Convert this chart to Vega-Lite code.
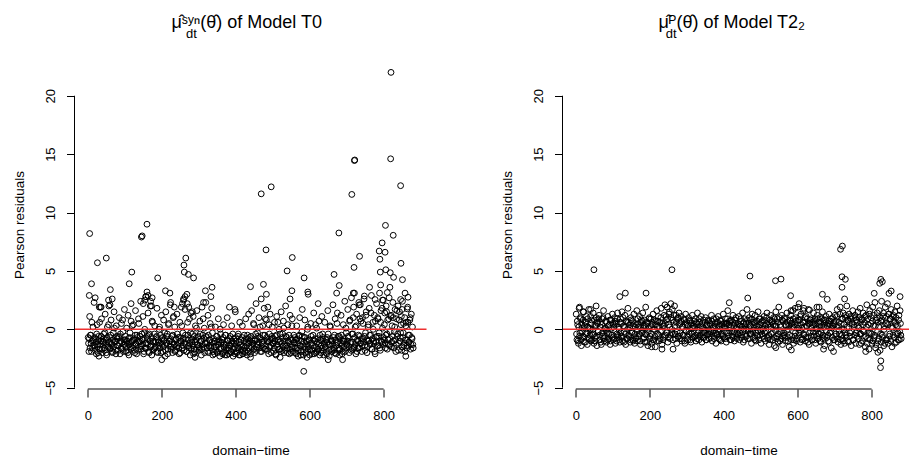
{
"$schema": "https://vega.github.io/schema/vega-lite/v6.json",
"padding": {"left": 11.5, "top": 14, "right": 0, "bottom": 0},
"spacing": 72,
"config": {
"view": {"stroke": null},
"font": "Liberation Sans",
"axis": {"domain": false, "grid": false, "tickColor": "black", "tickSize": 8, "tickWidth": 1, "labelColor": "black", "labelFontSize": 13, "labelFont": "Liberation Sans", "titleFont": "Liberation Sans", "titleFontSize": 13.5, "titleFontWeight": "normal", "titleColor": "black"},
"title": {"font": "Liberation Sans", "fontSize": 18, "fontWeight": "normal", "color": "black", "subtitleFont": "Liberation Sans", "subtitleFontSize": 13, "subtitleColor": "black", "anchor": "start", "frame": "group"}
},
"datasets": {
"t0": [
{"x":1,"y":-0.7},{"x":3,"y":-1.9},{"x":5,"y":1.1},{"x":7,"y":-0.5},{"x":9,"y":-1.2},{"x":11,"y":0.6},{"x":13,"y":-1.6},{"x":15,"y":-0.9},{"x":17,"y":2.3},{"x":19,"y":-1.4},
{"x":21,"y":-0.8},{"x":23,"y":-2.1},{"x":25,"y":0.4},{"x":27,"y":-1.3},{"x":29,"y":-0.6},{"x":31,"y":1.9},{"x":33,"y":-1.7},{"x":35,"y":-1.0},{"x":37,"y":0.9},{"x":39,"y":-2.0},
{"x":41,"y":-1.1},{"x":43,"y":-0.4},{"x":45,"y":-1.8},{"x":47,"y":1.3},{"x":49,"y":-0.9},{"x":51,"y":-2.2},{"x":53,"y":0.2},{"x":55,"y":-1.5},{"x":57,"y":2.0},{"x":59,"y":-0.7},
{"x":61,"y":-1.6},{"x":63,"y":0.8},{"x":65,"y":-1.2},{"x":67,"y":-2.0},{"x":69,"y":-0.3},{"x":71,"y":1.5},{"x":73,"y":-1.1},{"x":75,"y":-1.8},{"x":77,"y":0.3},{"x":79,"y":-0.8},
{"x":81,"y":-1.4},{"x":83,"y":-0.6},{"x":85,"y":1.0},{"x":87,"y":-2.1},{"x":89,"y":-1.0},{"x":91,"y":0.5},{"x":93,"y":-1.7},{"x":95,"y":-0.2},{"x":97,"y":-1.3},{"x":99,"y":1.7},
{"x":101,"y":-0.9},{"x":103,"y":-1.9},{"x":105,"y":0.1},{"x":107,"y":-1.2},{"x":109,"y":1.2},{"x":111,"y":-2.2},{"x":113,"y":-0.7},{"x":115,"y":-1.5},{"x":117,"y":0.7},{"x":119,"y":-1.0},
{"x":121,"y":-1.6},{"x":123,"y":0.4},{"x":125,"y":-0.8},{"x":127,"y":-2.0},{"x":129,"y":1.6},{"x":131,"y":-1.3},{"x":133,"y":-0.5},{"x":135,"y":-1.8},{"x":137,"y":0.9},{"x":139,"y":-1.1},
{"x":141,"y":-0.6},{"x":143,"y":2.4},{"x":145,"y":-1.4},{"x":147,"y":-0.9},{"x":149,"y":1.1},{"x":151,"y":-2.1},{"x":153,"y":-0.3},{"x":155,"y":-1.6},{"x":157,"y":2.8},{"x":159,"y":-1.2},
{"x":161,"y":-0.8},{"x":163,"y":1.4},{"x":165,"y":-1.9},{"x":167,"y":-0.4},{"x":169,"y":2.0},{"x":171,"y":-1.3},{"x":173,"y":-2.2},{"x":175,"y":0.6},{"x":177,"y":-1.0},{"x":179,"y":-1.7},
{"x":181,"y":0.3},{"x":183,"y":-1.5},{"x":185,"y":-0.7},{"x":187,"y":1.8},{"x":189,"y":-2.0},{"x":191,"y":-1.1},{"x":193,"y":0.0},{"x":195,"y":-1.6},{"x":197,"y":-0.5},{"x":199,"y":1.2},
{"x":201,"y":-1.3},{"x":203,"y":-1.9},{"x":205,"y":0.8},{"x":207,"y":-0.9},{"x":209,"y":-2.3},{"x":211,"y":1.5},{"x":213,"y":-1.2},{"x":215,"y":-0.4},{"x":217,"y":-1.7},{"x":219,"y":0.5},
{"x":221,"y":-1.0},{"x":223,"y":2.1},{"x":225,"y":-1.5},{"x":227,"y":-0.6},{"x":229,"y":-2.0},{"x":231,"y":1.0},{"x":233,"y":-1.3},{"x":235,"y":0.2},{"x":237,"y":-1.8},{"x":239,"y":-0.8},
{"x":241,"y":1.3},{"x":243,"y":-1.4},{"x":245,"y":-0.7},{"x":247,"y":-2.1},{"x":249,"y":0.6},{"x":251,"y":-1.0},{"x":253,"y":1.9},{"x":255,"y":-1.6},{"x":257,"y":-0.3},{"x":259,"y":2.6},
{"x":261,"y":-1.2},{"x":263,"y":1.7},{"x":265,"y":-0.8},{"x":267,"y":-1.9},{"x":269,"y":2.2},{"x":271,"y":-0.5},{"x":273,"y":-1.4},{"x":275,"y":0.9},{"x":277,"y":-2.2},{"x":279,"y":1.4},
{"x":281,"y":-1.1},{"x":283,"y":-0.4},{"x":285,"y":1.1},{"x":287,"y":-1.7},{"x":289,"y":-2.0},{"x":291,"y":0.3},{"x":293,"y":-0.9},{"x":295,"y":1.6},{"x":297,"y":-1.3},{"x":299,"y":-0.6},
{"x":301,"y":-1.8},{"x":303,"y":0.7},{"x":305,"y":-1.0},{"x":307,"y":-2.2},{"x":309,"y":1.9},{"x":311,"y":-0.5},{"x":313,"y":-1.5},{"x":315,"y":0.1},{"x":317,"y":-1.2},{"x":319,"y":2.3},
{"x":321,"y":-0.7},{"x":323,"y":-1.6},{"x":325,"y":1.2},{"x":327,"y":-2.0},{"x":329,"y":-0.9},{"x":331,"y":0.5},{"x":333,"y":-1.4},{"x":335,"y":1.8},{"x":337,"y":-0.3},{"x":339,"y":-1.9},
{"x":341,"y":-1.2},{"x":343,"y":-2.1},{"x":345,"y":0.2},{"x":347,"y":-1.5},{"x":349,"y":-0.6},{"x":351,"y":-1.9},{"x":353,"y":0.9},{"x":355,"y":-1.1},{"x":357,"y":-2.3},{"x":359,"y":-0.4},
{"x":361,"y":-1.7},{"x":363,"y":-0.9},{"x":365,"y":-2.0},{"x":367,"y":0.4},{"x":369,"y":-1.3},{"x":371,"y":-2.2},{"x":373,"y":-0.5},{"x":375,"y":-1.6},{"x":377,"y":1.0},{"x":379,"y":-1.0},
{"x":381,"y":-2.1},{"x":383,"y":-1.4},{"x":385,"y":-0.6},{"x":387,"y":-1.9},{"x":389,"y":0.3},{"x":391,"y":-1.2},{"x":393,"y":-2.3},{"x":395,"y":-0.8},{"x":397,"y":-1.5},{"x":399,"y":1.5},
{"x":401,"y":-1.0},{"x":403,"y":-2.0},{"x":405,"y":-1.6},{"x":407,"y":-0.4},{"x":409,"y":-2.2},{"x":411,"y":0.6},{"x":413,"y":-1.3},{"x":415,"y":-1.8},{"x":417,"y":-0.7},{"x":419,"y":-2.1},
{"x":421,"y":-1.4},{"x":423,"y":-0.5},{"x":425,"y":-1.9},{"x":427,"y":0.9},{"x":429,"y":-1.1},{"x":431,"y":-2.2},{"x":433,"y":-0.8},{"x":435,"y":1.3},{"x":437,"y":-1.6},{"x":439,"y":-1.0},
{"x":441,"y":-0.6},{"x":443,"y":1.6},{"x":445,"y":-1.8},{"x":447,"y":-1.2},{"x":449,"y":0.4},{"x":451,"y":-2.0},{"x":453,"y":-0.9},{"x":455,"y":2.2},{"x":457,"y":-1.5},{"x":459,"y":-0.3},
{"x":461,"y":-1.3},{"x":463,"y":1.0},{"x":465,"y":-0.7},{"x":467,"y":-1.9},{"x":469,"y":2.6},{"x":471,"y":-1.1},{"x":473,"y":0.3},{"x":475,"y":-1.6},{"x":477,"y":1.8},{"x":479,"y":-0.5},
{"x":481,"y":-1.7},{"x":483,"y":0.8},{"x":485,"y":-1.0},{"x":487,"y":1.9},{"x":489,"y":-2.1},{"x":491,"y":-0.4},{"x":493,"y":1.3},{"x":495,"y":-1.4},{"x":497,"y":-0.8},{"x":499,"y":0.2},
{"x":501,"y":-1.2},{"x":503,"y":-1.9},{"x":505,"y":0.6},{"x":507,"y":-0.6},{"x":509,"y":-2.2},{"x":511,"y":1.1},{"x":513,"y":-1.5},{"x":515,"y":-0.9},{"x":517,"y":0.0},{"x":519,"y":-1.7},
{"x":521,"y":-1.0},{"x":523,"y":1.5},{"x":525,"y":-1.8},{"x":527,"y":-0.4},{"x":529,"y":0.7},{"x":531,"y":-2.0},{"x":533,"y":-1.3},{"x":535,"y":2.0},{"x":537,"y":-0.7},{"x":539,"y":-1.6},
{"x":541,"y":0.4},{"x":543,"y":-1.1},{"x":545,"y":-2.1},{"x":547,"y":1.2},{"x":549,"y":-0.8},{"x":551,"y":-1.5},{"x":553,"y":0.9},{"x":555,"y":-1.9},{"x":557,"y":-0.5},{"x":559,"y":-1.2},
{"x":561,"y":-2.0},{"x":563,"y":-0.9},{"x":565,"y":0.3},{"x":567,"y":-1.6},{"x":569,"y":-2.3},{"x":571,"y":-0.6},{"x":573,"y":1.0},{"x":575,"y":-1.4},{"x":577,"y":-1.9},{"x":579,"y":-0.2},
{"x":581,"y":-1.3},{"x":583,"y":-2.2},{"x":585,"y":-0.7},{"x":587,"y":0.8},{"x":589,"y":-1.7},{"x":591,"y":-1.0},{"x":593,"y":-2.4},{"x":595,"y":0.2},{"x":597,"y":-1.5},{"x":599,"y":-0.9},
{"x":601,"y":-1.8},{"x":603,"y":0.5},{"x":605,"y":-1.2},{"x":607,"y":-2.1},{"x":609,"y":-0.5},{"x":611,"y":1.4},{"x":613,"y":-1.6},{"x":615,"y":-0.8},{"x":617,"y":-2.0},{"x":619,"y":0.1},
{"x":621,"y":-1.1},{"x":623,"y":-1.7},{"x":625,"y":0.7},{"x":627,"y":-2.2},{"x":629,"y":-0.9},{"x":631,"y":-1.4},{"x":633,"y":1.1},{"x":635,"y":-0.4},{"x":637,"y":-1.9},{"x":639,"y":-1.2},
{"x":641,"y":0.6},{"x":643,"y":-1.5},{"x":645,"y":-2.0},{"x":647,"y":-0.7},{"x":649,"y":1.6},{"x":651,"y":-1.3},{"x":653,"y":-2.3},{"x":655,"y":0.3},{"x":657,"y":-0.9},{"x":659,"y":-1.7},
{"x":661,"y":-1.0},{"x":663,"y":2.1},{"x":665,"y":-1.8},{"x":667,"y":-0.5},{"x":669,"y":0.9},{"x":671,"y":-2.1},{"x":673,"y":-1.2},{"x":675,"y":1.4},{"x":677,"y":-0.6},{"x":679,"y":-1.6},
{"x":681,"y":-2.2},{"x":683,"y":-0.8},{"x":685,"y":1.2},{"x":687,"y":-1.4},{"x":689,"y":-1.9},{"x":691,"y":0.4},{"x":693,"y":-1.0},{"x":695,"y":2.4},{"x":697,"y":-1.6},{"x":699,"y":-0.3},
{"x":701,"y":-1.3},{"x":703,"y":1.7},{"x":705,"y":-0.7},{"x":707,"y":-2.0},{"x":709,"y":0.8},{"x":711,"y":-1.1},{"x":713,"y":2.7},{"x":715,"y":-1.7},{"x":717,"y":-0.4},{"x":719,"y":1.9},
{"x":721,"y":-1.5},{"x":723,"y":0.2},{"x":725,"y":-2.1},{"x":727,"y":1.3},{"x":729,"y":-0.9},{"x":731,"y":-1.6},{"x":733,"y":2.3},{"x":735,"y":-0.6},{"x":737,"y":-1.2},{"x":739,"y":0.7},
{"x":741,"y":-1.9},{"x":743,"y":1.0},{"x":745,"y":-0.8},{"x":747,"y":2.6},{"x":749,"y":-1.4},{"x":751,"y":-0.3},{"x":753,"y":1.5},{"x":755,"y":-2.0},{"x":757,"y":-1.0},{"x":759,"y":0.4},
{"x":761,"y":1.8},{"x":763,"y":-1.2},{"x":765,"y":-0.5},{"x":767,"y":2.9},{"x":769,"y":-1.7},{"x":771,"y":0.6},{"x":773,"y":-1.0},{"x":775,"y":1.2},{"x":777,"y":-2.1},{"x":779,"y":-0.7},
{"x":781,"y":2.2},{"x":783,"y":-1.4},{"x":785,"y":0.9},{"x":787,"y":-0.6},{"x":789,"y":3.1},{"x":791,"y":-1.8},{"x":793,"y":1.6},{"x":795,"y":-1.1},{"x":797,"y":0.1},{"x":799,"y":2.5},
{"x":801,"y":-0.9},{"x":803,"y":1.4},{"x":805,"y":-1.6},{"x":807,"y":2.0},{"x":809,"y":-0.4},{"x":811,"y":0.8},{"x":813,"y":-1.3},{"x":815,"y":2.7},{"x":817,"y":-0.8},{"x":819,"y":1.1},
{"x":821,"y":-1.5},{"x":823,"y":0.3},{"x":825,"y":2.3},{"x":827,"y":-1.0},{"x":829,"y":-0.2},{"x":831,"y":1.7},{"x":833,"y":-1.9},{"x":835,"y":0.9},{"x":837,"y":-0.6},{"x":839,"y":2.0},
{"x":841,"y":-1.2},{"x":843,"y":1.5},{"x":845,"y":-0.7},{"x":847,"y":0.4},{"x":849,"y":-1.8},{"x":851,"y":2.4},{"x":853,"y":-0.3},{"x":855,"y":-1.4},{"x":857,"y":1.0},{"x":859,"y":-0.9},
{"x":861,"y":0.6},{"x":863,"y":-1.6},{"x":865,"y":1.9},{"x":867,"y":-0.5},{"x":869,"y":-1.1},{"x":871,"y":0.8},{"x":873,"y":-1.7},{"x":875,"y":1.3},{"x":877,"y":-0.8},{"x":879,"y":-1.3},
{"x":2,"y":-1.2},{"x":4,"y":-0.8},{"x":6,"y":-1.6},{"x":8,"y":-0.5},{"x":10,"y":-1.9},{"x":12,"y":-1.0},{"x":14,"y":0.2},{"x":16,"y":-1.4},{"x":18,"y":-0.7},{"x":20,"y":-1.8},
{"x":22,"y":-1.1},{"x":24,"y":-0.4},{"x":26,"y":-1.5},{"x":28,"y":-2.0},{"x":30,"y":-0.9},{"x":32,"y":0.6},{"x":34,"y":-1.3},{"x":36,"y":-0.6},{"x":38,"y":-1.7},{"x":40,"y":-1.0},
{"x":42,"y":-0.8},{"x":44,"y":-1.6},{"x":46,"y":-0.3},{"x":48,"y":-1.2},{"x":50,"y":-2.0},{"x":52,"y":-0.7},{"x":54,"y":-1.4},{"x":56,"y":0.4},{"x":58,"y":-1.1},{"x":60,"y":-1.7},
{"x":62,"y":-0.5},{"x":64,"y":-1.3},{"x":66,"y":-1.9},{"x":68,"y":-0.9},{"x":70,"y":-1.5},{"x":72,"y":0.1},{"x":74,"y":-1.0},{"x":76,"y":-2.1},{"x":78,"y":-0.6},{"x":80,"y":-1.4},
{"x":82,"y":-1.8},{"x":84,"y":-0.7},{"x":86,"y":-1.2},{"x":88,"y":-0.4},{"x":90,"y":-1.6},{"x":92,"y":-1.1},{"x":94,"y":0.8},{"x":96,"y":-1.9},{"x":98,"y":-0.9},{"x":100,"y":-1.3},
{"x":102,"y":-0.6},{"x":104,"y":-1.5},{"x":106,"y":-1.0},{"x":108,"y":-2.0},{"x":110,"y":-0.8},{"x":112,"y":-1.3},{"x":114,"y":-0.3},{"x":116,"y":-1.7},{"x":118,"y":-1.1},{"x":120,"y":0.3},
{"x":122,"y":-1.4},{"x":124,"y":-0.9},{"x":126,"y":-1.8},{"x":128,"y":-0.5},{"x":130,"y":-1.2},{"x":132,"y":-2.1},{"x":134,"y":-0.7},{"x":136,"y":-1.0},{"x":138,"y":0.5},{"x":140,"y":-1.5},
{"x":142,"y":-1.0},{"x":144,"y":-1.7},{"x":146,"y":-0.4},{"x":148,"y":-1.3},{"x":150,"y":-0.8},{"x":152,"y":-1.9},{"x":154,"y":0.0},{"x":156,"y":-1.2},{"x":158,"y":-1.6},{"x":160,"y":-0.6},
{"x":162,"y":-1.3},{"x":164,"y":-0.5},{"x":166,"y":-2.0},{"x":168,"y":-1.0},{"x":170,"y":-1.5},{"x":172,"y":-0.7},{"x":174,"y":0.7},{"x":176,"y":-1.8},{"x":178,"y":-1.1},{"x":180,"y":-0.4},
{"x":182,"y":-1.6},{"x":184,"y":-1.1},{"x":186,"y":-0.6},{"x":188,"y":-1.9},{"x":190,"y":-0.9},{"x":192,"y":-1.4},{"x":194,"y":0.2},{"x":196,"y":-1.2},{"x":198,"y":-2.0},{"x":200,"y":-0.8},
{"x":202,"y":-0.7},{"x":204,"y":-1.5},{"x":206,"y":-1.0},{"x":208,"y":-0.3},{"x":210,"y":-1.8},{"x":212,"y":-1.2},{"x":214,"y":-0.6},{"x":216,"y":-2.1},{"x":218,"y":0.4},{"x":220,"y":-1.0},
{"x":222,"y":-1.4},{"x":224,"y":-0.8},{"x":226,"y":-1.7},{"x":228,"y":-1.1},{"x":230,"y":-0.5},{"x":232,"y":1.1},{"x":234,"y":-1.3},{"x":236,"y":-1.9},{"x":238,"y":-0.9},{"x":240,"y":-1.5},
{"x":242,"y":-0.4},{"x":244,"y":-1.2},{"x":246,"y":-1.6},{"x":248,"y":-0.7},{"x":250,"y":-2.0},{"x":252,"y":-1.0},{"x":254,"y":0.3},{"x":256,"y":-1.4},{"x":258,"y":-0.8},{"x":260,"y":-1.8},
{"x":262,"y":-1.1},{"x":264,"y":-0.5},{"x":266,"y":-1.3},{"x":268,"y":-1.9},{"x":270,"y":0.6},{"x":272,"y":-0.9},{"x":274,"y":-1.6},{"x":276,"y":-1.2},{"x":278,"y":-0.3},{"x":280,"y":-1.7},
{"x":282,"y":-0.9},{"x":284,"y":-1.4},{"x":286,"y":-2.1},{"x":288,"y":-0.6},{"x":290,"y":-1.1},{"x":292,"y":-1.8},{"x":294,"y":0.1},{"x":296,"y":-1.3},{"x":298,"y":-0.7},{"x":300,"y":-1.5},
{"x":302,"y":-1.6},{"x":304,"y":-0.4},{"x":306,"y":-1.0},{"x":308,"y":-1.7},{"x":310,"y":-1.3},{"x":312,"y":0.9},{"x":314,"y":-0.8},{"x":316,"y":-2.0},{"x":318,"y":-1.2},{"x":320,"y":-0.6},
{"x":322,"y":-1.2},{"x":324,"y":-1.9},{"x":326,"y":-0.5},{"x":328,"y":-1.4},{"x":330,"y":-0.9},{"x":332,"y":-1.6},{"x":334,"y":0.2},{"x":336,"y":-1.1},{"x":338,"y":-2.2},{"x":340,"y":-0.8},
{"x":342,"y":-1.5},{"x":344,"y":-1.0},{"x":346,"y":-1.8},{"x":348,"y":-0.6},{"x":350,"y":-2.0},{"x":352,"y":-1.3},{"x":354,"y":-0.9},{"x":356,"y":-1.7},{"x":358,"y":0.0},{"x":360,"y":-1.2},
{"x":362,"y":-1.1},{"x":364,"y":-2.1},{"x":366,"y":-0.7},{"x":368,"y":-1.5},{"x":370,"y":-1.9},{"x":372,"y":-0.5},{"x":374,"y":-1.3},{"x":376,"y":-2.2},{"x":378,"y":-0.9},{"x":380,"y":-1.6},
{"x":382,"y":-1.8},{"x":384,"y":-0.8},{"x":386,"y":-1.4},{"x":388,"y":-2.0},{"x":390,"y":-1.0},{"x":392,"y":-0.4},{"x":394,"y":-1.7},{"x":396,"y":-1.2},{"x":398,"y":-2.1},{"x":400,"y":-0.7},
{"x":402,"y":-1.3},{"x":404,"y":-1.9},{"x":406,"y":-0.6},{"x":408,"y":-1.6},{"x":410,"y":-1.1},{"x":412,"y":-2.2},{"x":414,"y":-0.9},{"x":416,"y":-1.5},{"x":418,"y":0.3},{"x":420,"y":-1.8},
{"x":422,"y":-1.0},{"x":424,"y":-1.6},{"x":426,"y":-2.0},{"x":428,"y":-0.8},{"x":430,"y":-1.4},{"x":432,"y":-0.5},{"x":434,"y":-1.9},{"x":436,"y":-1.2},{"x":438,"y":-0.7},{"x":440,"y":-2.1},
{"x":442,"y":-1.5},{"x":444,"y":-0.9},{"x":446,"y":-1.2},{"x":448,"y":0.5},{"x":450,"y":-1.7},{"x":452,"y":-1.0},{"x":454,"y":-0.4},{"x":456,"y":-1.8},{"x":458,"y":-1.3},{"x":460,"y":-0.6},
{"x":462,"y":-1.1},{"x":464,"y":-1.6},{"x":466,"y":0.2},{"x":468,"y":-0.8},{"x":470,"y":-1.9},{"x":472,"y":-1.3},{"x":474,"y":-0.5},{"x":476,"y":-1.0},{"x":478,"y":-1.7},{"x":480,"y":0.9},
{"x":482,"y":-1.4},{"x":484,"y":-0.7},{"x":486,"y":-1.8},{"x":488,"y":-1.1},{"x":490,"y":0.4},{"x":492,"y":-1.5},{"x":494,"y":-0.9},{"x":496,"y":-2.0},{"x":498,"y":-0.6},{"x":500,"y":-1.2},
{"x":502,"y":-0.8},{"x":504,"y":-1.6},{"x":506,"y":-1.0},{"x":508,"y":-2.1},{"x":510,"y":-0.5},{"x":512,"y":-1.3},{"x":514,"y":0.6},{"x":516,"y":-1.7},{"x":518,"y":-1.1},{"x":520,"y":-0.4},
{"x":522,"y":-1.9},{"x":524,"y":-1.2},{"x":526,"y":-0.7},{"x":528,"y":-1.5},{"x":530,"y":0.1},{"x":532,"y":-1.0},{"x":534,"y":-1.8},{"x":536,"y":-0.6},{"x":538,"y":-1.4},{"x":540,"y":-2.0},
{"x":542,"y":-1.0},{"x":544,"y":-0.5},{"x":546,"y":-1.7},{"x":548,"y":-1.3},{"x":550,"y":-2.0},{"x":552,"y":0.3},{"x":554,"y":-0.9},{"x":556,"y":-1.5},{"x":558,"y":-1.1},{"x":560,"y":-0.7},
{"x":562,"y":-1.6},{"x":564,"y":-2.1},{"x":566,"y":-0.8},{"x":568,"y":-1.2},{"x":570,"y":-1.8},{"x":572,"y":-0.5},{"x":574,"y":-1.4},{"x":576,"y":-2.2},{"x":578,"y":-1.0},{"x":580,"y":-0.6},
{"x":582,"y":-1.9},{"x":584,"y":-1.1},{"x":586,"y":-1.5},{"x":588,"y":-0.7},{"x":590,"y":-2.0},{"x":592,"y":-1.3},{"x":594,"y":0.0},{"x":596,"y":-1.7},{"x":598,"y":-0.9},{"x":600,"y":-2.2},
{"x":602,"y":-1.2},{"x":604,"y":-0.6},{"x":606,"y":-1.8},{"x":608,"y":-1.4},{"x":610,"y":-0.9},{"x":612,"y":-2.1},{"x":614,"y":-1.0},{"x":616,"y":0.4},{"x":618,"y":-1.5},{"x":620,"y":-1.9},
{"x":622,"y":-0.8},{"x":624,"y":-1.7},{"x":626,"y":-1.2},{"x":628,"y":-0.5},{"x":630,"y":-2.0},{"x":632,"y":-1.0},{"x":634,"y":-1.6},{"x":636,"y":-0.7},{"x":638,"y":-2.2},{"x":640,"y":-1.3},
{"x":642,"y":-1.5},{"x":644,"y":-0.9},{"x":646,"y":-2.1},{"x":648,"y":-1.1},{"x":650,"y":-0.4},{"x":652,"y":-1.8},{"x":654,"y":-1.3},{"x":656,"y":0.2},{"x":658,"y":-1.0},{"x":660,"y":-1.9},
{"x":662,"y":-1.3},{"x":664,"y":-0.7},{"x":666,"y":-1.6},{"x":668,"y":-2.0},{"x":670,"y":-0.9},{"x":672,"y":-1.4},{"x":674,"y":0.5},{"x":676,"y":-1.1},{"x":678,"y":-1.8},{"x":680,"y":-0.6},
{"x":682,"y":-1.7},{"x":684,"y":-1.2},{"x":686,"y":-0.5},{"x":688,"y":-2.1},{"x":690,"y":-1.0},{"x":692,"y":-1.5},{"x":694,"y":-0.8},{"x":696,"y":-1.9},{"x":698,"y":0.1},{"x":700,"y":-1.3},
{"x":702,"y":-1.0},{"x":704,"y":-0.6},{"x":706,"y":-1.5},{"x":708,"y":0.7},{"x":710,"y":-1.2},{"x":712,"y":-1.8},{"x":714,"y":-0.4},{"x":716,"y":-1.1},{"x":718,"y":1.0},{"x":720,"y":-1.6},
{"x":722,"y":-0.7},{"x":724,"y":-1.3},{"x":726,"y":0.3},{"x":728,"y":-1.9},{"x":730,"y":-1.0},{"x":732,"y":-0.5},{"x":734,"y":-1.6},{"x":736,"y":0.9},{"x":738,"y":-1.2},{"x":740,"y":-0.8},
{"x":742,"y":-1.4},{"x":744,"y":0.5},{"x":746,"y":-1.1},{"x":748,"y":-0.6},{"x":750,"y":-1.8},{"x":752,"y":1.2},{"x":754,"y":-0.9},{"x":756,"y":-1.5},{"x":758,"y":0.2},{"x":760,"y":-1.0},
{"x":762,"y":-0.5},{"x":764,"y":-1.3},{"x":766,"y":1.4},{"x":768,"y":-1.7},{"x":770,"y":-0.8},{"x":772,"y":0.0},{"x":774,"y":-1.2},{"x":776,"y":-1.9},{"x":778,"y":0.7},{"x":780,"y":-1.1},
{"x":782,"y":-0.6},{"x":784,"y":1.0},{"x":786,"y":-1.4},{"x":788,"y":-0.3},{"x":790,"y":-1.6},{"x":792,"y":0.6},{"x":794,"y":-1.0},{"x":796,"y":1.8},{"x":798,"y":-1.3},{"x":800,"y":-0.7},
{"x":802,"y":0.4},{"x":804,"y":-1.2},{"x":806,"y":-0.5},{"x":808,"y":1.5},{"x":810,"y":-1.7},{"x":812,"y":-0.9},{"x":814,"y":0.9},{"x":816,"y":-1.4},{"x":818,"y":-0.2},{"x":820,"y":1.2},
{"x":822,"y":-1.1},{"x":824,"y":-0.6},{"x":826,"y":1.0},{"x":828,"y":-1.6},{"x":830,"y":0.2},{"x":832,"y":-0.9},{"x":834,"y":-1.3},{"x":836,"y":1.6},{"x":838,"y":-0.4},{"x":840,"y":-1.8},
{"x":842,"y":0.8},{"x":844,"y":-1.0},{"x":846,"y":-0.3},{"x":848,"y":1.1},{"x":850,"y":-1.5},{"x":852,"y":-0.7},{"x":854,"y":0.5},{"x":856,"y":-1.2},{"x":858,"y":-1.9},{"x":860,"y":0.3},
{"x":862,"y":-0.9},{"x":864,"y":-1.4},{"x":866,"y":0.6},{"x":868,"y":-1.1},{"x":870,"y":-0.5},{"x":872,"y":1.0},{"x":874,"y":-1.3},{"x":876,"y":-0.7},{"x":878,"y":0.2},{"x":880,"y":-1.6},
{"x":5,"y":8.2},{"x":10,"y":3.9},{"x":4,"y":2.9},{"x":20,"y":2.7},{"x":26,"y":5.7},{"x":50,"y":6.1},{"x":34,"y":1.9},{"x":36,"y":1.9},{"x":61,"y":3.4},{"x":56,"y":2.5},{"x":66,"y":2.6},{"x":60,"y":2.1},
{"x":112,"y":3.9},{"x":119,"y":4.9},{"x":117,"y":2.2},{"x":145,"y":7.9},{"x":147,"y":8.0},{"x":160,"y":9.0},{"x":189,"y":4.4},{"x":160,"y":3.2},{"x":163,"y":2.9},{"x":150,"y":2.2},{"x":154,"y":2.5},{"x":157,"y":2.8},
{"x":172,"y":2.0},{"x":174,"y":2.7},{"x":170,"y":2.4},{"x":210,"y":3.3},{"x":222,"y":3.1},{"x":224,"y":2.3},{"x":234,"y":1.9},{"x":265,"y":6.1},{"x":260,"y":5.5},{"x":261,"y":4.9},{"x":272,"y":4.7},{"x":286,"y":4.4},
{"x":256,"y":2.2},{"x":259,"y":2.5},{"x":263,"y":2.8},{"x":268,"y":3.0},{"x":273,"y":1.9},{"x":283,"y":1.5},{"x":318,"y":3.3},{"x":336,"y":3.6},{"x":333,"y":2.8},{"x":313,"y":2.3},{"x":383,"y":1.9},{"x":398,"y":1.7},
{"x":440,"y":3.65},{"x":469,"y":11.6},{"x":496,"y":12.2},{"x":482,"y":6.8},{"x":475,"y":3.85},{"x":483,"y":3.0},{"x":539,"y":5.0},{"x":553,"y":6.15},{"x":552,"y":3.3},{"x":547,"y":2.6},{"x":585,"y":4.4},{"x":595,"y":3.2},
{"x":596,"y":3.0},{"x":580,"y":1.7},{"x":623,"y":2.2},{"x":584,"y":-3.6},{"x":679,"y":8.25},{"x":666,"y":4.7},{"x":680,"y":3.75},{"x":673,"y":3.1},{"x":714,"y":11.55},{"x":721,"y":14.45},{"x":722,"y":14.5},{"x":720,"y":5.3},
{"x":735,"y":6.25},{"x":718,"y":3.1},{"x":721,"y":3.1},{"x":734,"y":2.1},{"x":737,"y":2.1},{"x":748,"y":2.85},{"x":762,"y":3.6},{"x":777,"y":2.55},{"x":820,"y":22.0},{"x":819,"y":14.6},{"x":846,"y":12.3},{"x":805,"y":8.9},
{"x":826,"y":8.05},{"x":796,"y":7.4},{"x":788,"y":6.7},{"x":804,"y":6.6},{"x":790,"y":6.0},{"x":847,"y":5.65},{"x":791,"y":4.9},{"x":806,"y":5.1},{"x":818,"y":4.85},{"x":827,"y":4.45},{"x":851,"y":4.25},{"x":792,"y":3.8},
{"x":817,"y":3.6},{"x":810,"y":3.15},{"x":797,"y":2.5},{"x":858,"y":3.1},{"x":866,"y":2.75},{"x":846,"y":2.55},{"x":864,"y":1.75},{"x":850,"y":1.7},
{"x":200,"y":-2.6},{"x":290,"y":-2.4},{"x":520,"y":-2.4},{"x":650,"y":-2.6},{"x":689,"y":-2.6},{"x":860,"y":-2.3},{"x":30,"y":-2.3},{"x":440,"y":-2.4}
],
"t2": [
{"x":1,"y":1.3},{"x":3,"y":-0.9},{"x":5,"y":0.4},{"x":7,"y":-1.2},{"x":9,"y":1.8},{"x":11,"y":-0.3},{"x":13,"y":0.9},{"x":15,"y":-1.4},{"x":17,"y":0.1},{"x":19,"y":-0.6},
{"x":21,"y":1.5},{"x":23,"y":-1.1},{"x":25,"y":0.6},{"x":27,"y":-0.4},{"x":29,"y":1.1},{"x":31,"y":-1.3},{"x":33,"y":0.2},{"x":35,"y":1.7},{"x":37,"y":-0.8},{"x":39,"y":0.0},
{"x":41,"y":-1.0},{"x":43,"y":0.8},{"x":45,"y":-0.5},{"x":47,"y":1.4},{"x":49,"y":-1.2},{"x":51,"y":0.3},{"x":53,"y":-0.7},{"x":55,"y":1.0},{"x":57,"y":-1.4},{"x":59,"y":0.5},
{"x":61,"y":-0.2},{"x":63,"y":1.2},{"x":65,"y":-0.9},{"x":67,"y":0.6},{"x":69,"y":-1.3},{"x":71,"y":0.9},{"x":73,"y":-0.6},{"x":75,"y":1.6},{"x":77,"y":-1.0},{"x":79,"y":0.1},
{"x":81,"y":0.7},{"x":83,"y":-1.1},{"x":85,"y":-0.3},{"x":87,"y":1.1},{"x":89,"y":-0.8},{"x":91,"y":0.4},{"x":93,"y":-1.3},{"x":95,"y":0.8},{"x":97,"y":-0.5},{"x":99,"y":1.3},
{"x":101,"y":-0.9},{"x":103,"y":0.2},{"x":105,"y":1.0},{"x":107,"y":-1.2},{"x":109,"y":0.5},{"x":111,"y":-0.4},{"x":113,"y":1.4},{"x":115,"y":-0.7},{"x":117,"y":0.0},{"x":119,"y":-1.1},
{"x":121,"y":0.9},{"x":123,"y":-0.6},{"x":125,"y":1.5},{"x":127,"y":-1.0},{"x":129,"y":0.3},{"x":131,"y":-0.2},{"x":133,"y":1.2},{"x":135,"y":-1.3},{"x":137,"y":0.6},{"x":139,"y":-0.8},
{"x":141,"y":1.8},{"x":143,"y":-0.5},{"x":145,"y":0.4},{"x":147,"y":-1.1},{"x":149,"y":1.0},{"x":151,"y":-0.3},{"x":153,"y":0.7},{"x":155,"y":-0.9},{"x":157,"y":1.3},{"x":159,"y":-1.2},
{"x":161,"y":0.2},{"x":163,"y":-0.7},{"x":165,"y":1.6},{"x":167,"y":-1.0},{"x":169,"y":0.5},{"x":171,"y":-0.4},{"x":173,"y":1.1},{"x":175,"y":-1.3},{"x":177,"y":0.8},{"x":179,"y":-0.1},
{"x":181,"y":1.4},{"x":183,"y":-0.8},{"x":185,"y":0.3},{"x":187,"y":-1.1},{"x":189,"y":1.9},{"x":191,"y":-0.5},{"x":193,"y":0.6},{"x":195,"y":-1.4},{"x":197,"y":0.1},{"x":199,"y":1.0},
{"x":201,"y":-0.6},{"x":203,"y":0.9},{"x":205,"y":-1.2},{"x":207,"y":0.4},{"x":209,"y":1.3},{"x":211,"y":-0.9},{"x":213,"y":0.0},{"x":215,"y":-1.5},{"x":217,"y":0.7},{"x":219,"y":1.6},
{"x":221,"y":-0.4},{"x":223,"y":1.1},{"x":225,"y":-1.0},{"x":227,"y":0.6},{"x":229,"y":-0.2},{"x":231,"y":1.8},{"x":233,"y":-1.3},{"x":235,"y":0.3},{"x":237,"y":-0.7},{"x":239,"y":1.2},
{"x":241,"y":2.1},{"x":243,"y":-0.5},{"x":245,"y":0.8},{"x":247,"y":1.9},{"x":249,"y":-1.1},{"x":251,"y":0.4},{"x":253,"y":1.5},{"x":255,"y":-0.8},{"x":257,"y":2.2},{"x":259,"y":-0.3},
{"x":261,"y":1.7},{"x":263,"y":-0.9},{"x":265,"y":0.6},{"x":267,"y":2.0},{"x":269,"y":-0.4},{"x":271,"y":1.2},{"x":273,"y":-1.2},{"x":275,"y":0.9},{"x":277,"y":-0.6},{"x":279,"y":1.4},
{"x":281,"y":-0.8},{"x":283,"y":0.5},{"x":285,"y":1.1},{"x":287,"y":-1.0},{"x":289,"y":0.2},{"x":291,"y":-0.5},{"x":293,"y":0.8},{"x":295,"y":-1.2},{"x":297,"y":1.3},{"x":299,"y":-0.2},
{"x":301,"y":0.4},{"x":303,"y":-0.9},{"x":305,"y":1.0},{"x":307,"y":-0.4},{"x":309,"y":0.7},{"x":311,"y":-1.1},{"x":313,"y":0.1},{"x":315,"y":1.2},{"x":317,"y":-0.7},{"x":319,"y":0.3},
{"x":321,"y":-0.6},{"x":323,"y":0.9},{"x":325,"y":-1.0},{"x":327,"y":0.5},{"x":329,"y":1.4},{"x":331,"y":-0.3},{"x":333,"y":-0.9},{"x":335,"y":0.6},{"x":337,"y":-0.5},{"x":339,"y":1.1},
{"x":341,"y":-1.1},{"x":343,"y":0.2},{"x":345,"y":0.8},{"x":347,"y":-0.7},{"x":349,"y":-0.1},{"x":351,"y":1.0},{"x":353,"y":-0.9},{"x":355,"y":0.4},{"x":357,"y":-0.4},{"x":359,"y":0.7},
{"x":361,"y":-0.8},{"x":363,"y":0.5},{"x":365,"y":-0.2},{"x":367,"y":1.2},{"x":369,"y":-1.0},{"x":371,"y":0.1},{"x":373,"y":0.9},{"x":375,"y":-0.6},{"x":377,"y":0.3},{"x":379,"y":-1.2},
{"x":381,"y":0.6},{"x":383,"y":-0.4},{"x":385,"y":1.1},{"x":387,"y":-0.8},{"x":389,"y":0.0},{"x":391,"y":0.8},{"x":393,"y":-1.0},{"x":395,"y":0.4},{"x":397,"y":-0.5},{"x":399,"y":1.3},
{"x":401,"y":-0.7},{"x":403,"y":0.3},{"x":405,"y":0.9},{"x":407,"y":-1.1},{"x":409,"y":0.5},{"x":411,"y":1.6},{"x":413,"y":-0.3},{"x":415,"y":0.7},{"x":417,"y":-0.9},{"x":419,"y":0.1},
{"x":421,"y":0.8},{"x":423,"y":-0.6},{"x":425,"y":1.2},{"x":427,"y":-0.2},{"x":429,"y":-1.0},{"x":431,"y":0.5},{"x":433,"y":1.0},{"x":435,"y":-0.7},{"x":437,"y":0.2},{"x":439,"y":-0.4},
{"x":441,"y":1.1},{"x":443,"y":-0.9},{"x":445,"y":0.3},{"x":447,"y":0.7},{"x":449,"y":-0.5},{"x":451,"y":1.4},{"x":453,"y":-1.1},{"x":455,"y":0.0},{"x":457,"y":0.9},{"x":459,"y":-0.6},
{"x":461,"y":0.5},{"x":463,"y":1.7},{"x":465,"y":-0.8},{"x":467,"y":0.2},{"x":469,"y":1.0},{"x":471,"y":-0.4},{"x":473,"y":0.8},{"x":475,"y":-1.2},{"x":477,"y":1.3},{"x":479,"y":-0.1},
{"x":481,"y":-0.7},{"x":483,"y":0.6},{"x":485,"y":1.2},{"x":487,"y":-1.0},{"x":489,"y":0.3},{"x":491,"y":-0.5},{"x":493,"y":1.5},{"x":495,"y":-0.9},{"x":497,"y":0.4},{"x":499,"y":0.9},
{"x":501,"y":-1.2},{"x":503,"y":0.1},{"x":505,"y":0.7},{"x":507,"y":-0.6},{"x":509,"y":1.1},{"x":511,"y":-0.3},{"x":513,"y":-1.0},{"x":515,"y":0.5},{"x":517,"y":1.4},{"x":519,"y":-0.8},
{"x":521,"y":0.2},{"x":523,"y":-1.3},{"x":525,"y":0.8},{"x":527,"y":1.2},{"x":529,"y":-0.4},{"x":531,"y":0.6},{"x":533,"y":-0.9},{"x":535,"y":1.0},{"x":537,"y":-1.4},{"x":539,"y":0.3},
{"x":541,"y":1.5},{"x":543,"y":-0.6},{"x":545,"y":0.9},{"x":547,"y":-1.1},{"x":549,"y":1.9},{"x":551,"y":-0.2},{"x":553,"y":0.4},{"x":555,"y":-0.8},{"x":557,"y":1.2},{"x":559,"y":-1.3},
{"x":561,"y":0.7},{"x":563,"y":-0.5},{"x":565,"y":1.0},{"x":567,"y":-1.0},{"x":569,"y":0.3},{"x":571,"y":1.4},{"x":573,"y":-0.7},{"x":575,"y":0.0},{"x":577,"y":-1.5},{"x":579,"y":0.8},
{"x":581,"y":1.2},{"x":583,"y":-0.9},{"x":585,"y":0.5},{"x":587,"y":1.6},{"x":589,"y":-1.2},{"x":591,"y":0.2},{"x":593,"y":-0.6},{"x":595,"y":1.0},{"x":597,"y":-1.0},{"x":599,"y":0.4},
{"x":601,"y":1.9},{"x":603,"y":-0.3},{"x":605,"y":0.8},{"x":607,"y":-1.1},{"x":609,"y":1.3},{"x":611,"y":0.1},{"x":613,"y":-0.8},{"x":615,"y":1.6},{"x":617,"y":-0.5},{"x":619,"y":0.6},
{"x":621,"y":-1.0},{"x":623,"y":1.1},{"x":625,"y":0.3},{"x":627,"y":-0.7},{"x":629,"y":1.7},{"x":631,"y":-1.3},{"x":633,"y":0.5},{"x":635,"y":-0.2},{"x":637,"y":0.9},{"x":639,"y":-0.9},
{"x":641,"y":0.4},{"x":643,"y":1.4},{"x":645,"y":-0.6},{"x":647,"y":0.9},{"x":649,"y":-1.2},{"x":651,"y":0.0},{"x":653,"y":1.2},{"x":655,"y":-0.8},{"x":657,"y":0.6},{"x":659,"y":-0.4},
{"x":661,"y":1.0},{"x":663,"y":-1.1},{"x":665,"y":0.3},{"x":667,"y":1.5},{"x":669,"y":-0.5},{"x":671,"y":0.8},{"x":673,"y":-1.4},{"x":675,"y":0.2},{"x":677,"y":1.1},{"x":679,"y":-0.7},
{"x":681,"y":0.5},{"x":683,"y":-1.0},{"x":685,"y":1.3},{"x":687,"y":-0.3},{"x":689,"y":0.7},{"x":691,"y":-1.6},{"x":693,"y":0.1},{"x":695,"y":1.0},{"x":697,"y":-0.9},{"x":699,"y":0.4},
{"x":701,"y":1.2},{"x":703,"y":-0.6},{"x":705,"y":0.2},{"x":707,"y":1.7},{"x":709,"y":-1.1},{"x":711,"y":0.6},{"x":713,"y":-0.4},{"x":715,"y":1.9},{"x":717,"y":-1.3},{"x":719,"y":0.9},
{"x":721,"y":-0.8},{"x":723,"y":1.4},{"x":725,"y":0.0},{"x":727,"y":-1.2},{"x":729,"y":1.0},{"x":731,"y":-0.5},{"x":733,"y":2.0},{"x":735,"y":-1.0},{"x":737,"y":0.7},{"x":739,"y":1.3},
{"x":741,"y":-0.3},{"x":743,"y":1.1},{"x":745,"y":-1.4},{"x":747,"y":0.5},{"x":749,"y":1.6},{"x":751,"y":-0.9},{"x":753,"y":0.2},{"x":755,"y":1.2},{"x":757,"y":-1.2},{"x":759,"y":0.8},
{"x":761,"y":-0.6},{"x":763,"y":1.5},{"x":765,"y":0.1},{"x":767,"y":-1.3},{"x":769,"y":1.8},{"x":771,"y":-0.4},{"x":773,"y":0.9},{"x":775,"y":-1.0},{"x":777,"y":1.4},{"x":779,"y":-0.2},
{"x":781,"y":0.6},{"x":783,"y":-1.5},{"x":785,"y":1.2},{"x":787,"y":2.1},{"x":789,"y":-0.8},{"x":791,"y":0.4},{"x":793,"y":-1.7},{"x":795,"y":1.6},{"x":797,"y":-0.3},{"x":799,"y":1.0},
{"x":801,"y":-1.2},{"x":803,"y":1.9},{"x":805,"y":0.3},{"x":807,"y":-0.7},{"x":809,"y":2.3},{"x":811,"y":-1.6},{"x":813,"y":0.8},{"x":815,"y":1.4},{"x":817,"y":-1.0},{"x":819,"y":0.2},
{"x":821,"y":1.6},{"x":823,"y":-1.8},{"x":825,"y":0.7},{"x":827,"y":2.4},{"x":829,"y":-0.5},{"x":831,"y":1.1},{"x":833,"y":-1.4},{"x":835,"y":0.3},{"x":837,"y":1.9},{"x":839,"y":-0.9},
{"x":841,"y":0.5},{"x":843,"y":2.2},{"x":845,"y":-1.2},{"x":847,"y":1.3},{"x":849,"y":-0.4},{"x":851,"y":0.9},{"x":853,"y":1.7},{"x":855,"y":-1.5},{"x":857,"y":0.1},{"x":859,"y":1.2},
{"x":861,"y":-0.7},{"x":863,"y":1.5},{"x":865,"y":0.4},{"x":867,"y":-1.1},{"x":869,"y":2.0},{"x":871,"y":-0.3},{"x":873,"y":0.8},{"x":875,"y":-0.9},{"x":877,"y":1.6},{"x":879,"y":-0.5},
{"x":2,"y":-0.4},{"x":4,"y":0.7},{"x":6,"y":-1.0},{"x":8,"y":0.2},{"x":10,"y":-0.6},{"x":12,"y":1.0},{"x":14,"y":-0.9},{"x":16,"y":0.4},{"x":18,"y":-0.2},{"x":20,"y":0.8},
{"x":22,"y":-0.7},{"x":24,"y":0.3},{"x":26,"y":-1.1},{"x":28,"y":0.6},{"x":30,"y":-0.3},{"x":32,"y":0.9},{"x":34,"y":-0.8},{"x":36,"y":0.1},{"x":38,"y":-0.5},{"x":40,"y":1.1},
{"x":42,"y":0.5},{"x":44,"y":-0.9},{"x":46,"y":0.0},{"x":48,"y":-0.4},{"x":50,"y":0.8},{"x":52,"y":-1.0},{"x":54,"y":0.3},{"x":56,"y":-0.6},{"x":58,"y":0.6},{"x":60,"y":-0.2},
{"x":62,"y":0.9},{"x":64,"y":-0.5},{"x":66,"y":0.2},{"x":68,"y":-1.1},{"x":70,"y":0.4},{"x":72,"y":-0.3},{"x":74,"y":1.0},{"x":76,"y":-0.8},{"x":78,"y":0.0},{"x":80,"y":-0.6},
{"x":82,"y":-0.1},{"x":84,"y":0.6},{"x":86,"y":-0.9},{"x":88,"y":0.3},{"x":90,"y":-0.4},{"x":92,"y":0.8},{"x":94,"y":-1.0},{"x":96,"y":0.1},{"x":98,"y":-0.7},{"x":100,"y":0.5},
{"x":102,"y":0.4},{"x":104,"y":-0.8},{"x":106,"y":0.7},{"x":108,"y":-0.2},{"x":110,"y":-1.0},{"x":112,"y":0.9},{"x":114,"y":-0.5},{"x":116,"y":0.2},{"x":118,"y":-0.9},{"x":120,"y":0.6},
{"x":122,"y":-0.3},{"x":124,"y":0.5},{"x":126,"y":-0.7},{"x":128,"y":1.0},{"x":130,"y":-1.1},{"x":132,"y":0.2},{"x":134,"y":-0.4},{"x":136,"y":0.7},{"x":138,"y":-0.8},{"x":140,"y":0.0},
{"x":142,"y":0.6},{"x":144,"y":-0.6},{"x":146,"y":0.1},{"x":148,"y":-0.9},{"x":150,"y":0.8},{"x":152,"y":-0.2},{"x":154,"y":0.3},{"x":156,"y":-1.0},{"x":158,"y":0.5},{"x":160,"y":-0.4},
{"x":162,"y":-0.8},{"x":164,"y":0.4},{"x":166,"y":-0.1},{"x":168,"y":0.9},{"x":170,"y":-0.6},{"x":172,"y":0.2},{"x":174,"y":-1.0},{"x":176,"y":0.6},{"x":178,"y":-0.3},{"x":180,"y":0.7},
{"x":182,"y":0.1},{"x":184,"y":-0.7},{"x":186,"y":0.8},{"x":188,"y":-0.4},{"x":190,"y":0.3},{"x":192,"y":-1.1},{"x":194,"y":0.5},{"x":196,"y":-0.2},{"x":198,"y":0.9},{"x":200,"y":-0.8},
{"x":202,"y":0.3},{"x":204,"y":-0.4},{"x":206,"y":0.6},{"x":208,"y":-0.9},{"x":210,"y":0.0},{"x":212,"y":0.8},{"x":214,"y":-0.6},{"x":216,"y":0.4},{"x":218,"y":-1.0},{"x":220,"y":0.2},
{"x":222,"y":0.7},{"x":224,"y":-0.5},{"x":226,"y":0.2},{"x":228,"y":-0.8},{"x":230,"y":1.0},{"x":232,"y":-0.1},{"x":234,"y":0.5},{"x":236,"y":-0.9},{"x":238,"y":0.3},{"x":240,"y":-0.6},
{"x":242,"y":0.5},{"x":244,"y":1.1},{"x":246,"y":-0.3},{"x":248,"y":0.9},{"x":250,"y":-0.7},{"x":252,"y":1.3},{"x":254,"y":0.2},{"x":256,"y":-0.5},{"x":258,"y":1.0},{"x":260,"y":0.0},
{"x":262,"y":0.8},{"x":264,"y":-0.4},{"x":266,"y":1.2},{"x":268,"y":0.3},{"x":270,"y":-0.8},{"x":272,"y":0.6},{"x":274,"y":-0.2},{"x":276,"y":1.0},{"x":278,"y":-0.6},{"x":280,"y":0.4},
{"x":282,"y":-0.3},{"x":284,"y":0.7},{"x":286,"y":-0.8},{"x":288,"y":0.2},{"x":290,"y":-0.5},{"x":292,"y":0.9},{"x":294,"y":-1.0},{"x":296,"y":0.4},{"x":298,"y":-0.1},{"x":300,"y":0.6},
{"x":302,"y":-0.6},{"x":304,"y":0.3},{"x":306,"y":-0.2},{"x":308,"y":0.8},{"x":310,"y":-0.9},{"x":312,"y":0.5},{"x":314,"y":-0.4},{"x":316,"y":0.1},{"x":318,"y":-0.7},{"x":320,"y":0.7},
{"x":322,"y":0.2},{"x":324,"y":-0.5},{"x":326,"y":0.6},{"x":328,"y":-0.8},{"x":330,"y":0.4},{"x":332,"y":-0.1},{"x":334,"y":0.9},{"x":336,"y":-0.6},{"x":338,"y":0.3},{"x":340,"y":-0.3},
{"x":342,"y":0.5},{"x":344,"y":-0.7},{"x":346,"y":0.1},{"x":348,"y":-0.3},{"x":350,"y":0.6},{"x":352,"y":-0.9},{"x":354,"y":0.3},{"x":356,"y":-0.5},{"x":358,"y":0.8},{"x":360,"y":-0.2},
{"x":362,"y":-0.4},{"x":364,"y":0.4},{"x":366,"y":-0.7},{"x":368,"y":0.7},{"x":370,"y":-0.1},{"x":372,"y":0.2},{"x":374,"y":-0.8},{"x":376,"y":0.5},{"x":378,"y":-0.3},{"x":380,"y":0.9},
{"x":382,"y":-0.5},{"x":384,"y":0.6},{"x":386,"y":-0.2},{"x":388,"y":0.3},{"x":390,"y":-0.9},{"x":392,"y":0.7},{"x":394,"y":-0.4},{"x":396,"y":0.1},{"x":398,"y":-0.6},{"x":400,"y":0.5},
{"x":402,"y":0.2},{"x":404,"y":-0.8},{"x":406,"y":0.5},{"x":408,"y":-0.3},{"x":410,"y":0.9},{"x":412,"y":-0.6},{"x":414,"y":0.4},{"x":416,"y":-0.1},{"x":418,"y":0.7},{"x":420,"y":-0.9},
{"x":422,"y":-0.2},{"x":424,"y":0.6},{"x":426,"y":-0.7},{"x":428,"y":0.3},{"x":430,"y":0.8},{"x":432,"y":-0.4},{"x":434,"y":0.1},{"x":436,"y":-0.8},{"x":438,"y":0.5},{"x":440,"y":-0.5},
{"x":442,"y":0.4},{"x":444,"y":-0.3},{"x":446,"y":0.9},{"x":448,"y":-0.7},{"x":450,"y":0.2},{"x":452,"y":-0.2},{"x":454,"y":0.6},{"x":456,"y":-0.9},{"x":458,"y":0.3},{"x":460,"y":0.0},
{"x":462,"y":-0.6},{"x":464,"y":0.8},{"x":466,"y":-0.1},{"x":468,"y":0.5},{"x":470,"y":-0.8},{"x":472,"y":0.3},{"x":474,"y":-0.4},{"x":476,"y":0.9},{"x":478,"y":-0.2},{"x":480,"y":0.6},
{"x":482,"y":0.1},{"x":484,"y":-0.9},{"x":486,"y":0.4},{"x":488,"y":-0.3},{"x":490,"y":0.7},{"x":492,"y":-0.6},{"x":494,"y":0.2},{"x":496,"y":0.9},{"x":498,"y":-0.5},{"x":500,"y":-0.1},
{"x":502,"y":0.6},{"x":504,"y":-0.4},{"x":506,"y":0.0},{"x":508,"y":0.8},{"x":510,"y":-0.8},{"x":512,"y":0.3},{"x":514,"y":-0.2},{"x":516,"y":1.0},{"x":518,"y":-0.7},{"x":520,"y":0.4},
{"x":522,"y":-0.5},{"x":524,"y":0.5},{"x":526,"y":-0.9},{"x":528,"y":0.2},{"x":530,"y":0.7},{"x":532,"y":-0.3},{"x":534,"y":0.4},{"x":536,"y":-0.7},{"x":538,"y":0.9},{"x":540,"y":-0.1},
{"x":542,"y":0.3},{"x":544,"y":-0.8},{"x":546,"y":0.6},{"x":548,"y":-0.4},{"x":550,"y":1.0},{"x":552,"y":-1.0},{"x":554,"y":0.2},{"x":556,"y":-0.2},{"x":558,"y":0.8},{"x":560,"y":-0.6},
{"x":562,"y":-0.3},{"x":564,"y":0.9},{"x":566,"y":-0.7},{"x":568,"y":0.4},{"x":570,"y":-0.1},{"x":572,"y":0.6},{"x":574,"y":-1.0},{"x":576,"y":0.3},{"x":578,"y":-0.5},{"x":580,"y":0.7},
{"x":582,"y":0.5},{"x":584,"y":-0.6},{"x":586,"y":0.2},{"x":588,"y":0.9},{"x":590,"y":-0.9},{"x":592,"y":0.4},{"x":594,"y":-0.3},{"x":596,"y":0.7},{"x":598,"y":-0.8},{"x":600,"y":0.1},
{"x":602,"y":0.8},{"x":604,"y":-0.5},{"x":606,"y":1.1},{"x":608,"y":-0.2},{"x":610,"y":0.4},{"x":612,"y":-0.9},{"x":614,"y":0.6},{"x":616,"y":-0.4},{"x":618,"y":0.2},{"x":620,"y":1.0},
{"x":622,"y":-0.7},{"x":624,"y":0.3},{"x":626,"y":0.9},{"x":628,"y":-1.1},{"x":630,"y":0.5},{"x":632,"y":-0.3},{"x":634,"y":0.8},{"x":636,"y":-0.6},{"x":638,"y":0.1},{"x":640,"y":0.6},
{"x":642,"y":-0.2},{"x":644,"y":0.7},{"x":646,"y":-0.9},{"x":648,"y":0.4},{"x":650,"y":0.1},{"x":652,"y":-0.6},{"x":654,"y":0.9},{"x":656,"y":-0.4},{"x":658,"y":0.3},{"x":660,"y":-1.0},
{"x":662,"y":0.6},{"x":664,"y":-0.3},{"x":666,"y":0.9},{"x":668,"y":-0.8},{"x":670,"y":0.2},{"x":672,"y":0.5},{"x":674,"y":-0.6},{"x":676,"y":0.8},{"x":678,"y":-0.2},{"x":680,"y":0.3},
{"x":682,"y":-0.5},{"x":684,"y":0.7},{"x":686,"y":-1.1},{"x":688,"y":0.4},{"x":690,"y":-0.2},{"x":692,"y":0.9},{"x":694,"y":-0.7},{"x":696,"y":0.3},{"x":698,"y":0.6},{"x":700,"y":-0.9},
{"x":702,"y":0.7},{"x":704,"y":-0.4},{"x":706,"y":1.1},{"x":708,"y":-0.8},{"x":710,"y":0.3},{"x":712,"y":-0.1},{"x":714,"y":1.3},{"x":716,"y":-0.9},{"x":718,"y":0.5},{"x":720,"y":-0.5},
{"x":722,"y":0.9},{"x":724,"y":-1.0},{"x":726,"y":0.4},{"x":728,"y":-0.3},{"x":730,"y":1.2},{"x":732,"y":-0.7},{"x":734,"y":0.2},{"x":736,"y":0.8},{"x":738,"y":-1.1},{"x":740,"y":0.5},
{"x":742,"y":-0.6},{"x":744,"y":0.9},{"x":746,"y":-0.2},{"x":748,"y":1.1},{"x":750,"y":-0.9},{"x":752,"y":0.4},{"x":754,"y":-0.5},{"x":756,"y":1.0},{"x":758,"y":-0.3},{"x":760,"y":0.6},
{"x":762,"y":0.3},{"x":764,"y":-0.8},{"x":766,"y":1.0},{"x":768,"y":-0.4},{"x":770,"y":0.6},{"x":772,"y":-1.2},{"x":774,"y":0.8},{"x":776,"y":-0.1},{"x":778,"y":0.4},{"x":780,"y":-0.7},
{"x":782,"y":1.1},{"x":784,"y":-0.6},{"x":786,"y":0.2},{"x":788,"y":-1.2},{"x":790,"y":0.9},{"x":792,"y":-0.3},{"x":794,"y":1.3},{"x":796,"y":-0.9},{"x":798,"y":0.5},{"x":800,"y":-0.4},
{"x":802,"y":0.7},{"x":804,"y":-1.0},{"x":806,"y":1.2},{"x":808,"y":-0.5},{"x":810,"y":0.3},{"x":812,"y":-1.3},{"x":814,"y":1.0},{"x":816,"y":-0.2},{"x":818,"y":0.6},{"x":820,"y":-0.8},
{"x":822,"y":1.0},{"x":824,"y":-0.4},{"x":826,"y":-1.1},{"x":828,"y":0.8},{"x":830,"y":-0.7},{"x":832,"y":1.4},{"x":834,"y":0.0},{"x":836,"y":-1.2},{"x":838,"y":0.5},{"x":840,"y":1.1},
{"x":842,"y":-0.9},{"x":844,"y":0.4},{"x":846,"y":1.3},{"x":848,"y":-0.6},{"x":850,"y":0.9},{"x":852,"y":-1.0},{"x":854,"y":0.2},{"x":856,"y":1.1},{"x":858,"y":-0.5},{"x":860,"y":0.7},
{"x":862,"y":-1.2},{"x":864,"y":0.6},{"x":866,"y":1.0},{"x":868,"y":-0.4},{"x":870,"y":0.3},{"x":872,"y":-0.9},{"x":874,"y":1.2},{"x":876,"y":-0.2},{"x":878,"y":0.5},{"x":880,"y":-0.8},
{"x":49,"y":5.1},{"x":260,"y":5.1},{"x":119,"y":2.8},{"x":134,"y":3.1},{"x":190,"y":3.1},{"x":233,"y":-1.7},{"x":263,"y":-1.7},{"x":205,"y":-1.5},{"x":716,"y":6.85},{"x":721,"y":7.13},{"x":471,"y":4.56},{"x":540,"y":4.16},
{"x":555,"y":4.3},{"x":720,"y":4.5},{"x":729,"y":4.28},{"x":720,"y":3.6},{"x":727,"y":2.6},{"x":825,"y":4.28},{"x":822,"y":3.94},{"x":829,"y":4.08},{"x":847,"y":3.08},{"x":853,"y":3.28},{"x":877,"y":2.8},{"x":807,"y":3.08},
{"x":415,"y":2.28},{"x":465,"y":2.68},{"x":581,"y":2.88},{"x":667,"y":3.0},{"x":680,"y":2.57},{"x":604,"y":2.2},{"x":617,"y":1.8},{"x":632,"y":1.65},{"x":593,"y":1.8},{"x":582,"y":1.6},{"x":652,"y":1.9},{"x":658,"y":1.9},
{"x":824,"y":-3.28},{"x":825,"y":-2.7},{"x":817,"y":-1.97},{"x":583,"y":-1.77},{"x":541,"y":-1.57},{"x":670,"y":-1.7},{"x":697,"y":-1.9},{"x":784,"y":-1.9},{"x":10,"y":1.9},{"x":20,"y":1.5},{"x":40,"y":1.7},{"x":55,"y":2.0}
]
},
"hconcat": [
{
"width": 352, "height": 329,
"title": {"text": "μ̂ˢʸⁿ(θ̂) of Model T0", "subtitle": "\u200b\u00a0\u00a0\u00a0\u00a0dt", "dx": 97, "offset": 19, "subtitlePadding": -4},
"layer": [
{"data": {"name": "t0"}, "mark": {"type": "point", "shape": "circle", "filled": false, "color": "black", "size": 34, "strokeWidth": 1, "opacity": 1},
"encoding": {
"x": {"field": "x", "type": "quantitative", "scale": {"domain": [-36, 916], "nice": false, "zero": false}, "axis": {"values": [0, 200, 400, 600, 800], "title": "domain−time", "labelPadding": 12, "titlePadding": 21.5, "labelFlush": false, "labelOverlap": false}},
"y": {"field": "y", "type": "quantitative", "scale": {"domain": [-5.11, 23.06], "nice": false, "zero": false}, "axis": {"values": [-5, 0, 5, 10, 15, 20], "title": "Pearson residuals", "labelAngle": -90, "labelAlign": "center", "labelBaseline": "bottom", "labelPadding": 9.5, "titlePadding": 18, "labelFlush": false, "labelOverlap": false}}
}},
{"data": {"values": [{}]}, "mark": {"type": "rule", "color": "#ee3030", "strokeWidth": 1.4}, "encoding": {"y": {"datum": 0, "scale": {"domain": [-5.11, 23.06], "nice": false, "zero": false}}}},
{"data": {"values": [{}]}, "mark": {"type": "rule", "color": "black", "strokeWidth": 1}, "encoding": {"x": {"datum": -36, "scale": {"domain": [-36, 916], "nice": false, "zero": false}}, "y": {"datum": -5}, "y2": {"datum": 20}}},
{"data": {"values": [{}]}, "mark": {"type": "rule", "color": "black", "strokeWidth": 1}, "encoding": {"y": {"datum": -5.11}, "x": {"datum": 0}, "x2": {"datum": 800}}}
]
},
{
"width": 352, "height": 329,
"title": {"text": "μ̂ᴾ(θ̂) of Model T2₂", "subtitle": "\u200b\u00a0\u00a0dt", "dx": 96, "offset": 19, "subtitlePadding": -4},
"layer": [
{"data": {"name": "t2"}, "mark": {"type": "point", "shape": "circle", "filled": false, "color": "black", "size": 34, "strokeWidth": 1, "opacity": 1},
"encoding": {
"x": {"field": "x", "type": "quantitative", "scale": {"domain": [-36, 916], "nice": false, "zero": false}, "axis": {"values": [0, 200, 400, 600, 800], "title": "domain−time", "labelPadding": 12, "titlePadding": 21.5, "labelFlush": false, "labelOverlap": false}},
"y": {"field": "y", "type": "quantitative", "scale": {"domain": [-5.11, 23.06], "nice": false, "zero": false}, "axis": {"values": [-5, 0, 5, 10, 15, 20], "title": "Pearson residuals", "labelAngle": -90, "labelAlign": "center", "labelBaseline": "bottom", "labelPadding": 9.5, "titlePadding": 18, "labelFlush": false, "labelOverlap": false}}
}},
{"data": {"values": [{}]}, "mark": {"type": "rule", "color": "#ee3030", "strokeWidth": 1.4}, "encoding": {"y": {"datum": 0, "scale": {"domain": [-5.11, 23.06], "nice": false, "zero": false}}}},
{"data": {"values": [{}]}, "mark": {"type": "rule", "color": "black", "strokeWidth": 1}, "encoding": {"x": {"datum": -36, "scale": {"domain": [-36, 916], "nice": false, "zero": false}}, "y": {"datum": -5}, "y2": {"datum": 20}}},
{"data": {"values": [{}]}, "mark": {"type": "rule", "color": "black", "strokeWidth": 1}, "encoding": {"y": {"datum": -5.11}, "x": {"datum": 0}, "x2": {"datum": 800}}}
]
}
]
}
